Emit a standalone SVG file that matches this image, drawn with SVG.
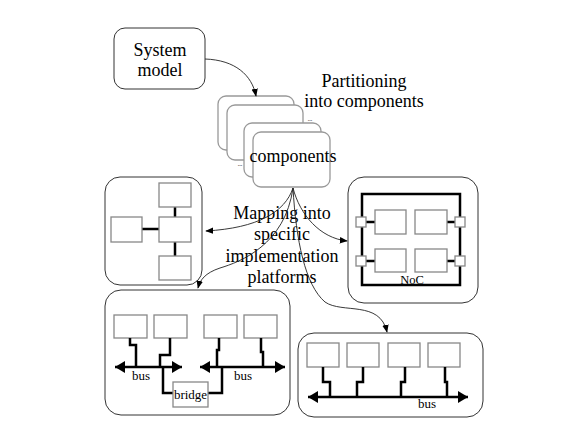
<svg xmlns="http://www.w3.org/2000/svg" width="584" height="444" viewBox="0 0 584 444">
<style>
.t{font-family:"Liberation Serif",serif;fill:#000}
.big{font-size:18px}
.sm{font-size:13px}
.outer{fill:#fff;stroke:#333;stroke-width:1}
.in{fill:#fff;stroke:#888;stroke-width:1.3}
.card{fill:#fff;stroke:#999;stroke-width:1.3}
.thick{fill:none;stroke:#000;stroke-width:2.5}
.con{fill:none;stroke:#222;stroke-width:0.9}
</style>
<defs>
<marker id="ah" viewBox="0 0 10 10" refX="9" refY="5" markerWidth="8" markerHeight="8" markerUnits="userSpaceOnUse" orient="auto">
<path d="M0,1 L10,5 L0,9 Z" fill="#000"/>
</marker>
<marker id="bh" viewBox="0 0 10 12" refX="10" refY="6" markerWidth="10" markerHeight="12" markerUnits="userSpaceOnUse" orient="auto-start-reverse">
<path d="M0,0 L10,6 L0,12 Z" fill="#000"/>
</marker>
</defs>
<rect width="584" height="444" fill="#fff"/>

<g id="system-model">
<rect class="outer" x="114" y="28" width="91" height="61" rx="11"/>
<text class="t big" x="160" y="56" text-anchor="middle">System</text>
<text class="t big" x="160" y="76" text-anchor="middle">model</text>
</g>

<g id="partitioning-label">
<text class="t big" x="364" y="87" text-anchor="middle">Partitioning</text>
<text class="t big" x="364" y="107" text-anchor="middle">into components</text>
</g>

<g id="components">
<rect class="card" x="218" y="96" width="76" height="54" rx="8"/>
<rect class="card" x="227" y="105" width="76" height="55" rx="8"/>
<rect class="card" x="244" y="123" width="77" height="54" rx="8"/>
<rect class="card" x="253" y="132" width="77" height="55" rx="8" stroke="#666"/>
<text class="t" x="310" y="121" font-size="6" fill="#999" text-anchor="middle">...</text>
<text class="t" x="240" y="166" font-size="6" fill="#999" text-anchor="middle">...</text>
<text class="t big" x="293" y="162" text-anchor="middle">components</text>
</g>

<g id="mapping-label">
<text class="t big" x="282" y="219" text-anchor="middle">Mapping into</text>
<text class="t big" x="282" y="240" text-anchor="middle">specific</text>
<text class="t big" x="282" y="262" text-anchor="middle">implementation</text>
<text class="t big" x="282" y="283" text-anchor="middle">platforms</text>
</g>

<g id="processor-network">
<rect class="outer" x="105" y="177" width="97" height="108" rx="15"/>
<line class="thick" x1="175" y1="207" x2="175" y2="217"/>
<line class="thick" x1="142" y1="229" x2="159" y2="229"/>
<line class="thick" x1="175" y1="242" x2="175" y2="256"/>
<rect class="in" x="159" y="183" width="32" height="24"/>
<rect class="in" x="159" y="217" width="32" height="25"/>
<rect class="in" x="111" y="217" width="31" height="25"/>
<rect class="in" x="159" y="256" width="32" height="24"/>
</g>

<g id="noc-platform">
<rect class="outer" x="348" y="177" width="130" height="126" rx="16"/>
<rect x="362" y="194" width="98" height="91" fill="none" stroke="#000" stroke-width="2.5"/>
<line class="thick" x1="366" y1="222" x2="375" y2="222"/>
<line class="thick" x1="366" y1="261" x2="375" y2="261"/>
<line class="thick" x1="447" y1="222" x2="455" y2="222"/>
<line class="thick" x1="447" y1="261" x2="455" y2="261"/>
<rect class="in" x="375" y="210" width="31" height="24"/>
<rect class="in" x="415" y="210" width="32" height="24"/>
<rect class="in" x="375" y="249" width="31" height="23"/>
<rect class="in" x="415" y="249" width="32" height="23"/>
<rect class="in" x="356" y="217" width="10" height="10"/>
<rect class="in" x="356" y="256" width="10" height="10"/>
<rect class="in" x="455" y="217" width="10" height="10"/>
<rect class="in" x="455" y="256" width="10" height="10"/>
<text class="t" x="412" y="284" font-size="12.5" text-anchor="middle">NoC</text>
</g>

<g id="bridged-bus-platform">
<rect class="outer" x="105" y="290" width="185" height="125" rx="16"/>
<rect class="in" x="114" y="315" width="33" height="23"/>
<rect class="in" x="154" y="315" width="33" height="23"/>
<rect class="in" x="204" y="315" width="33" height="23"/>
<rect class="in" x="244" y="315" width="33" height="23"/>
<path class="thick" d="M130,338 V345 H136 V367"/>
<path class="thick" d="M170,338 V355 H160 V367"/>
<path class="thick" d="M219,338 V350 H217 V367"/>
<path class="thick" d="M261,338 V352 H263 V367"/>
<line class="thick" x1="115" y1="367" x2="182" y2="367" marker-start="url(#bh)" marker-end="url(#bh)"/>
<line class="thick" x1="200" y1="367" x2="285" y2="367" marker-start="url(#bh)" marker-end="url(#bh)"/>
<path class="thick" d="M163,367 V393 H173"/>
<path class="thick" d="M208,393 H222 V367"/>
<rect class="in" x="173" y="382" width="35" height="25"/>
<text class="t sm" x="141" y="380" text-anchor="middle">bus</text>
<text class="t sm" x="243" y="380" text-anchor="middle">bus</text>
<text class="t sm" x="190.5" y="399" text-anchor="middle">bridge</text>
</g>

<g id="bus-platform">
<rect class="outer" x="298" y="333" width="185" height="84" rx="16"/>
<rect class="in" x="307" y="343" width="32" height="24"/>
<rect class="in" x="347" y="343" width="32" height="24"/>
<rect class="in" x="388" y="343" width="32" height="24"/>
<rect class="in" x="428" y="343" width="32" height="24"/>
<path class="thick" d="M323,367 V382 H330 V397"/>
<path class="thick" d="M363,367 V382 H357 V397"/>
<path class="thick" d="M405,367 V382 H401 V397"/>
<path class="thick" d="M445,367 V382 H447 V397"/>
<line class="thick" x1="308" y1="397" x2="468" y2="397" marker-start="url(#bh)" marker-end="url(#bh)"/>
<text class="t sm" x="427" y="408" text-anchor="middle">bus</text>
</g>

<g id="connectors">
<path class="con" d="M205,59 C235,60 252,75 256,96" marker-end="url(#ah)"/>
<path class="con" d="M293,188 C285,212 258,228 206,231" marker-end="url(#ah)"/>
<path class="con" d="M293,188 C285,245 240,262 220,268 C205,273 200,280 198,288" marker-end="url(#ah)"/>
<path class="con" d="M293,188 C300,215 320,238 347,241" marker-end="url(#ah)"/>
<path class="con" d="M293,188 C296,240 305,285 325,302 C342,314 380,300 387,332" marker-end="url(#ah)"/>
</g>
</svg>
